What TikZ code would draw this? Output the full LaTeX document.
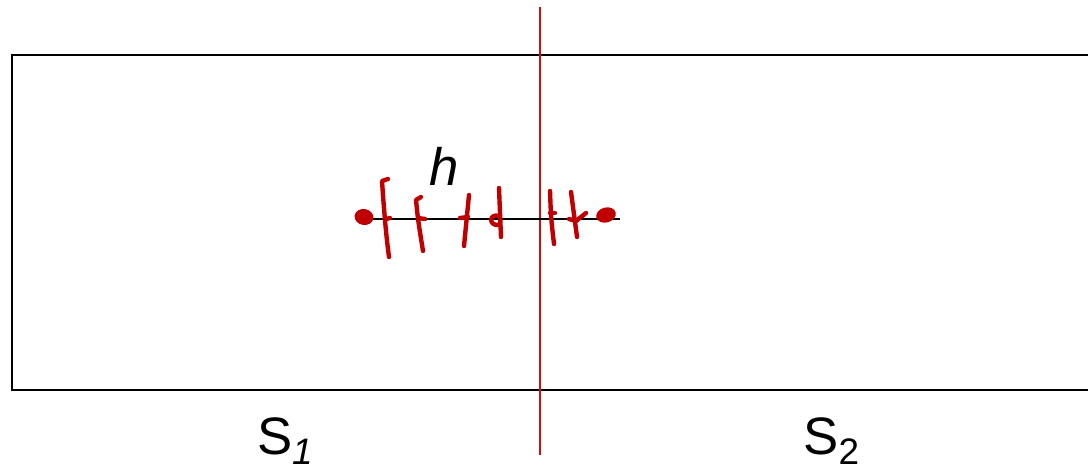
\documentclass[tikz,border=0pt]{standalone}
\usepackage{fontspec}
\setmainfont{Liberation Sans}
\definecolor{cutred}{RGB}{215,10,10}
\definecolor{penred}{RGB}{192,0,0}
\begin{document}
\begin{tikzpicture}[x=0.02cm, y=-0.02cm,
        lbl/.style={font=\fontsize{30}{36}\selectfont, inner sep=0pt},
        pen/.style={penred, line width=2.5pt, line cap=round, line join=round}]
    \useasboundingbox (0,0) rectangle (1088,470);

    % Regione (aperta a destra)
    \draw[line width=1pt] (1100,55) -- (12,55) -- (12,390) -- (1100,390);

    % Linea di separazione
    \coordinate (top) at (540,7);
    \coordinate (bottom) at (540,455);
    \draw[cutred, line width=1.5pt] (top) -- (bottom);

    % Segmento h
    \coordinate (left) at (360,219);
    \coordinate (right) at (620,219);
    \draw[line width=1pt] (left) -- (right);
    \node[lbl] (h) at (444,166) {\textit{h}};

    % Etichette delle regioni
    \node[lbl, anchor=base west] (s1) at (257,454) {S\textsubscript{\textit{1}}};
    \node[lbl, anchor=base west] (s2) at (803,454) {S\textsubscript{2}};

    % Segni a mano
    \fill[penred, rotate around={-10:(364,217)}] (364,217) ellipse (0.19cm and 0.16cm);
    \fill[penred, rotate around={15:(606,215)}] (606,215) ellipse (0.2cm and 0.15cm);
    \draw[pen] (388,179) -- (382,181) .. controls (384,210) and (386,235) .. (389,257);
    \draw[pen] (386,219) -- (390,218);
    \draw[pen] (421,197) -- (416,200) .. controls (418,220) .. (423,251);
    \draw[pen] (418,218) -- (425,219);
    \draw[pen] (469,195) .. controls (466,220) .. (464,246);
    \draw[pen] (460,218) -- (468,217);
    \draw[pen] (499,188) .. controls (500,212) .. (501,237);
    \draw[pen] (499,216) .. controls (489,213) and (488,226) .. (499,225);
    \draw[pen] (550,191) .. controls (551,218) .. (554,244);
    \draw[pen] (550,213) -- (555,213);
    \draw[pen] (571,192) .. controls (574,215) .. (577,237);
    \draw[pen] (569,219) -- (576,221) -- (586,213);
\end{tikzpicture}
\end{document}
